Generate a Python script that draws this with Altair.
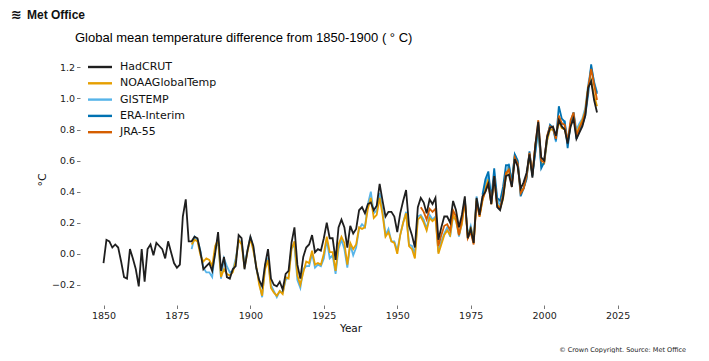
import altair as alt
import pandas as pd

# ---------------- data ----------------
series_names = ["HadCRUT", "NOAAGlobalTemp", "GISTEMP", "ERA-Interim", "JRA-55"]
series_colors = ["#1f1f1f", "#E69F00", "#56B4E9", "#0072B2", "#D55E00"]

hadcrut_start = 1850
hadcrut = [
    -0.06, 0.09, 0.08, 0.04, 0.06, 0.04, -0.05, -0.15, -0.16, 0.03,
    -0.03, -0.10, -0.21, 0.03, -0.18, 0.03, 0.06, -0.01, 0.07, 0.05,
    0.03, -0.03, 0.08, 0.01, -0.06, -0.09, -0.07, 0.24, 0.35, 0.08,
    0.08, 0.11, 0.10, 0.01, -0.10, -0.08, -0.06, -0.11, 0.00, 0.14,
    -0.11, -0.02, -0.15, -0.16, -0.10, -0.08, 0.12, 0.10, -0.10, 0.02,
    0.11, 0.05, -0.09, -0.17, -0.21, -0.07, 0.03, -0.16, -0.20, -0.21,
    -0.18, -0.23, -0.13, -0.11, 0.07, 0.17, -0.07, -0.16, -0.02, 0.04,
    0.06, 0.12, 0.01, 0.03, 0.02, 0.10, 0.20, 0.10, 0.10, -0.04,
    0.17, 0.22, 0.17, 0.04, 0.18, 0.13, 0.16, 0.28, 0.30, 0.26,
    0.32, 0.33, 0.28, 0.31, 0.45, 0.34, 0.24, 0.27, 0.27, 0.24,
    0.14, 0.26, 0.34, 0.41, 0.18, 0.12, 0.04, 0.30, 0.36, 0.33,
    0.26, 0.35, 0.32, 0.36, 0.09, 0.17, 0.24, 0.24, 0.20, 0.34,
    0.28, 0.17, 0.25, 0.37, 0.10, 0.16, 0.07, 0.36, 0.25, 0.37,
    0.40, 0.45, 0.32, 0.50, 0.30, 0.28, 0.36, 0.50, 0.51, 0.43,
    0.61, 0.56, 0.42, 0.46, 0.52, 0.64, 0.49, 0.70, 0.85, 0.62,
    0.60, 0.75, 0.81, 0.82, 0.76, 0.86, 0.82, 0.80, 0.71, 0.82,
    0.87, 0.74, 0.78, 0.82, 0.89, 1.07, 1.11, 0.99, 0.91,
]

noaa_start = 1880
noaa = [
    0.06, 0.09, 0.08, -0.01, -0.05, -0.03, -0.04, -0.08, 0.05, 0.09,
    -0.15, -0.10, -0.13, -0.14, -0.12, -0.05, 0.09, 0.06, -0.09, 0.01,
    0.10, 0.02, -0.08, -0.20, -0.27, -0.10, -0.04, -0.22, -0.25, -0.27,
    -0.24, -0.26, -0.15, -0.16, 0.03, 0.08, -0.14, -0.20, -0.12, -0.05,
    -0.06, 0.02, -0.07, -0.06, -0.07, 0.00, 0.11, 0.01, 0.01, -0.11,
    0.06, 0.11, 0.07, -0.07, 0.07, 0.03, 0.06, 0.17, 0.16, 0.17,
    0.29, 0.36, 0.23, 0.25, 0.36, 0.25, 0.11, 0.14, 0.08, 0.07,
    0.00, 0.12, 0.20, 0.26, 0.05, 0.03, -0.03, 0.22, 0.24, 0.20,
    0.15, 0.23, 0.21, 0.23, 0.00, 0.06, 0.12, 0.15, 0.12, 0.25,
    0.21, 0.12, 0.19, 0.34, 0.10, 0.17, 0.07, 0.35, 0.24, 0.34,
    0.42, 0.48, 0.32, 0.48, 0.32, 0.29, 0.35, 0.50, 0.55, 0.45,
    0.63, 0.58, 0.40, 0.42, 0.49, 0.63, 0.51, 0.70, 0.81, 0.58,
    0.58, 0.73, 0.80, 0.80, 0.76, 0.85, 0.81, 0.80, 0.72, 0.82,
    0.89, 0.77, 0.82, 0.86, 0.92, 1.08, 1.12, 1.02, 0.95,
]

gistemp_start = 1880
gistemp = [
    0.03, 0.11, 0.09, 0.02, -0.09, -0.12, -0.12, -0.15, 0.02, 0.09,
    -0.16, -0.03, -0.08, -0.12, -0.11, -0.03, 0.08, 0.08, -0.07, 0.02,
    0.11, 0.04, -0.09, -0.18, -0.28, -0.07, -0.03, -0.20, -0.24, -0.28,
    -0.24, -0.25, -0.17, -0.15, 0.04, 0.05, -0.17, -0.22, -0.10, -0.08,
    -0.08, 0.00, -0.09, -0.07, -0.08, -0.03, 0.09, -0.03, -0.01, -0.13,
    0.03, 0.09, 0.03, -0.09, 0.06, -0.01, 0.04, 0.16, 0.19, 0.17,
    0.32, 0.40, 0.26, 0.28, 0.39, 0.28, 0.12, 0.16, 0.08, 0.08,
    0.02, 0.12, 0.20, 0.27, 0.06, 0.05, 0.00, 0.24, 0.25, 0.22,
    0.16, 0.25, 0.22, 0.24, 0.01, 0.08, 0.13, 0.17, 0.11, 0.24,
    0.22, 0.11, 0.20, 0.35, 0.12, 0.18, 0.09, 0.37, 0.26, 0.35,
    0.45, 0.51, 0.33, 0.50, 0.35, 0.31, 0.37, 0.51, 0.58, 0.46,
    0.64, 0.59, 0.41, 0.42, 0.50, 0.64, 0.52, 0.65, 0.80, 0.57,
    0.58, 0.73, 0.82, 0.81, 0.72, 0.87, 0.83, 0.85, 0.73, 0.84,
    0.91, 0.80, 0.84, 0.87, 0.94, 1.09, 1.20, 1.11, 1.04,
]

era_start = 1979
era_interim = [
    0.38, 0.48, 0.53, 0.35, 0.55, 0.36, 0.34, 0.43, 0.57, 0.57,
    0.46, 0.64, 0.60, 0.37, 0.42, 0.48, 0.66, 0.50, 0.66, 0.83,
    0.55, 0.59, 0.75, 0.83, 0.81, 0.73, 0.95, 0.87, 0.85, 0.68,
    0.84, 0.91, 0.74, 0.80, 0.83, 0.89, 1.03, 1.22, 1.10, 1.03,
]

jra_start = 1958
jra55 = [
    0.30, 0.27, 0.22, 0.29, 0.27, 0.29, 0.05, 0.12, 0.18, 0.19,
    0.15, 0.28, 0.24, 0.12, 0.22, 0.35, 0.10, 0.14, 0.06, 0.34,
    0.24, 0.35, 0.40, 0.46, 0.32, 0.50, 0.31, 0.29, 0.38, 0.52,
    0.54, 0.43, 0.62, 0.58, 0.39, 0.42, 0.50, 0.65, 0.51, 0.70,
    0.86, 0.60, 0.59, 0.76, 0.82, 0.81, 0.74, 0.89, 0.84, 0.83,
    0.72, 0.86, 0.91, 0.76, 0.81, 0.85, 0.91, 1.07, 1.19, 1.09,
    0.99,
]

x_ticks = [1850, 1875, 1900, 1925, 1950, 1975, 2000, 2025]
y_ticks = [-0.2, 0.0, 0.2, 0.4, 0.6, 0.8, 1.0, 1.2]

title_text = "Global mean temperature difference from 1850-1900 ( \u00b0 C)"
y_title_text = "\u00b0C"
x_title_text = "Year"
logo_text = "Met Office"
credit_text = "\u00a9 Crown Copyright. Source: Met Office"

# ---------------- build tables ----------------
draw_order = [
    ("GISTEMP", gistemp_start, gistemp),
    ("NOAAGlobalTemp", noaa_start, noaa),
    ("ERA-Interim", era_start, era_interim),
    ("JRA-55", jra_start, jra55),
    ("HadCRUT", hadcrut_start, hadcrut),
]
rows = []
for k, (name, start, vals) in enumerate(draw_order):
    for i, v in enumerate(vals):
        rows.append({"series": name, "year": start + i, "value": v, "k": k})
df = pd.DataFrame(rows)

legend_df = pd.DataFrame({"series": series_names, "idx": list(range(len(series_names)))})

color_scale = alt.Scale(domain=series_names, range=series_colors)
FONT = "DejaVu Sans"

x_enc = alt.X(
    "year:Q",
    scale=alt.Scale(domain=[1842, 2026.5], nice=False, zero=False),
    axis=alt.Axis(values=x_ticks, format="d", title=None, domain=False, grid=False,
                  tickSize=3.5, tickColor="#555555", tickWidth=0.8,
                  labelFontSize=9.5, labelColor="#222222", labelFont=FONT,
                  labelPadding=2, labelOverlap=False, labelFlush=False),
)
y_enc = alt.Y(
    "value:Q",
    scale=alt.Scale(domain=[-0.33, 1.28], nice=False, zero=False),
    axis=alt.Axis(values=y_ticks, format=".1f", title=None, domain=False, grid=False,
                  tickSize=3.5, tickColor="#555555", tickWidth=0.8,
                  labelFontSize=9.5, labelColor="#222222", labelFont=FONT,
                  labelPadding=2, labelOverlap=False),
)

lines = alt.Chart(df).mark_line(strokeWidth=1.8).encode(
    x=x_enc,
    y=y_enc,
    color=alt.Color("series:N", scale=color_scale, legend=None),
    detail="k:O",
)

leg_base = alt.Chart(legend_df).transform_calculate(ly="12 + datum.idx * 16.3")
leg_lines = leg_base.mark_rule(strokeWidth=2.4).encode(
    x=alt.value(8), x2=alt.value(32),
    y=alt.Y("ly:Q", scale=None),
    color=alt.Color("series:N", scale=color_scale, legend=None),
)
leg_text = leg_base.mark_text(align="left", baseline="middle", fontSize=11, font=FONT,
                              color="#111111").encode(
    x=alt.value(40), y=alt.Y("ly:Q", scale=None), text="series:N"
)

def label(text, x, y, **kw):
    return alt.Chart(pd.DataFrame({"t": [text]})).mark_text(**kw).encode(
        x=alt.value(x), y=alt.value(y), text="t:N"
    )

title = label(title_text, -5, -17, align="left", baseline="middle", fontSize=13,
              font="Liberation Sans", color="#000000")
logo = label(logo_text, -53, -40, align="left", baseline="middle", fontSize=12,
             font="Liberation Sans", fontWeight="bold", color="#111111")
logo_icon = label("\u224b", -69, -40, align="left", baseline="middle", fontSize=13,
                  font=FONT, fontWeight="bold", color="#111111")
y_title = label(y_title_text, -37, 125, align="center", baseline="middle", fontSize=11,
                font=FONT, angle=270, color="#111111")
x_title = label(x_title_text, 271, 274, align="center", baseline="middle", fontSize=10.5,
                font=FONT, color="#111111")
credit = label(credit_text, 606, 295, align="right", baseline="middle", fontSize=6.5,
               font=FONT, color="#222222")

chart = alt.layer(lines, leg_lines, leg_text, title, logo, logo_icon, y_title, x_title, credit).properties(
    width=542,
    height=250,
    autosize=alt.AutoSizeParams(type="none"),
    padding={"left": 72, "top": 47, "right": 79, "bottom": 48},
    background="white",
).configure_view(strokeWidth=0, stroke="transparent")

chart.save("out.html", embed_options={"renderer": "svg", "actions": False})
